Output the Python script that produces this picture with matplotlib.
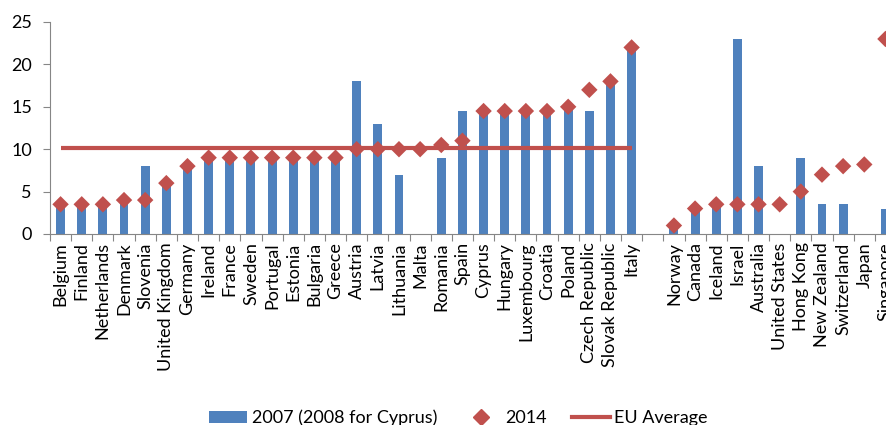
import numpy as np
import matplotlib
matplotlib.use("Agg")
import matplotlib.pyplot as plt
from matplotlib.lines import Line2D
from matplotlib.patches import Patch

plt.rcParams["font.family"] = ["Lato", "DejaVu Sans"]

# EU member states, then other economies (separated by one empty slot)
eu_countries = [
    "Belgium", "Finland", "Netherlands", "Denmark", "Slovenia", "United Kingdom",
    "Germany", "Ireland", "France", "Sweden", "Portugal", "Estonia", "Bulgaria",
    "Greece", "Austria", "Latvia", "Lithuania", "Malta", "Romania", "Spain",
    "Cyprus", "Hungary", "Luxembourg", "Croatia", "Poland", "Czech Republic",
    "Slovak Republic", "Italy",
]
other_countries = [
    "Norway", "Canada", "Iceland", "Israel", "Australia", "United States",
    "Hong Kong", "New Zealand", "Switzerland", "Japan", "Singapore",
]

# 2007 values (2008 for Cyprus); nan = not available
eu_2007 = [3.5, 3.5, 3.5, 4, 8, 6, 8, 9, 9, 9, 9, 9, 9, 9, 18, 13, 7, np.nan,
           9, 14.5, 14.5, 14.5, 14.5, 14.5, 15, 14.5, 18, 22]
other_2007 = [1, 3, 3.5, 23, 8, np.nan, 9, 3.5, 3.5, np.nan, 3]

eu_2014 = [3.5, 3.5, 3.5, 4, 4, 6, 8, 9, 9, 9, 9, 9, 9, 9, 10, 10, 10, 10,
           10.5, 11, 14.5, 14.5, 14.5, 14.5, 15, 17, 18, 22]
other_2014 = [1, 3, 3.5, 3.5, 3.5, 3.5, 5, 7, 8, 8.2, 23]

eu_average = 10.2

blue = "#4F81BD"
red = "#C0504D"
grey = "#868686"

labels = eu_countries + [""] + other_countries
vals_2007 = np.array(eu_2007 + [np.nan] + other_2007, dtype=float)
vals_2014 = np.array(eu_2014 + [np.nan] + other_2014, dtype=float)
x = np.arange(len(labels))
eu_x = x[:len(eu_countries)]

fig = plt.figure(figsize=(8.87, 4.25), dpi=100)
ax = fig.add_axes([50 / 887, 191 / 425, 846 / 887, 212 / 425])

ax.bar(x, np.nan_to_num(vals_2007), width=0.42, color=blue, zorder=2)
ax.plot([eu_x[0], eu_x[-1]], [eu_average, eu_average], color=red, lw=3,
        solid_capstyle="butt", zorder=3)
ax.scatter(x, vals_2014, marker="D", s=70, color=red, zorder=4,
           edgecolors="none", clip_on=False)

ax.set_xlim(-0.5, len(labels) - 0.5)
ax.set_ylim(0, 25)
ax.set_yticks(np.arange(0, 26, 5))
ax.tick_params(axis="y", direction="out", length=5, color=grey, labelsize=13,
               pad=8)

# tick marks on category boundaries, labels at category centres
ax.set_xticks(np.arange(-0.5, len(labels), 1.0))
ax.set_xticklabels([])
ax.tick_params(axis="x", which="major", direction="out", length=5, color=grey)
ax.set_xticks(x, minor=True)
ax.set_xticklabels(labels, minor=True, rotation=90, fontsize=13)
ax.tick_params(axis="x", which="minor", length=0, pad=6)

for side in ["top", "right"]:
    ax.spines[side].set_visible(False)
for side in ["left", "bottom"]:
    ax.spines[side].set_color(grey)

handles = [
    Patch(facecolor=blue, label="2007 (2008 for Cyprus)"),
    Line2D([], [], marker="D", color=red, ls="none", markersize=8,
           label="2014"),
    Line2D([], [], color=red, lw=3, label="EU Average"),
]
fig.legend(handles=handles, loc="center", bbox_to_anchor=(0.517, 0.016),
           ncol=3, frameon=False, fontsize=13, handlelength=2.1,
           columnspacing=1.4, handletextpad=0.25)

fig.savefig("out.png", dpi=100)
